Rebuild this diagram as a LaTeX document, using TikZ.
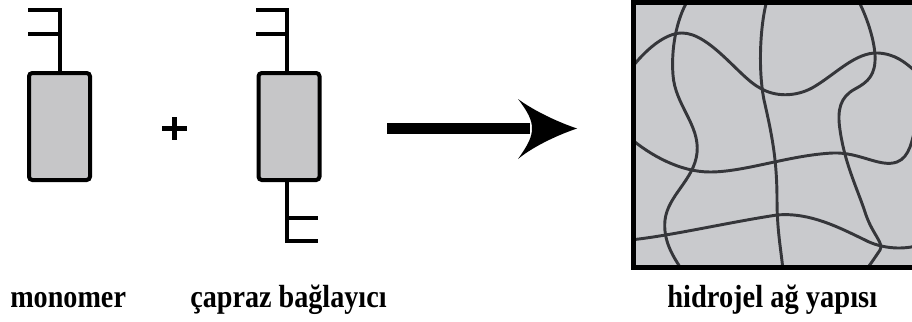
\documentclass[tikz,border=0pt]{standalone}
\usepackage{fontspec}
\setmainfont{Liberation Serif}
\begin{document}
\begin{tikzpicture}[x=0.75pt,y=-0.75pt,
  unitbox/.style={draw=black,line width=3pt,fill=boxgray,rounded corners=2.5pt,
    minimum width=45.75pt,minimum height=80.25pt,inner sep=0pt},
  arm/.style={line width=3pt,line cap=butt,line join=miter},
  chain/.style={draw=chaingray,line width=2.2pt,line cap=round},
  caption/.style={font=\bfseries\fontsize{24}{26}\selectfont,inner sep=0pt,anchor=base west}]
\definecolor{boxgray}{HTML}{C6C6C8}
\definecolor{gelgray}{HTML}{C9CACD}
\definecolor{chaingray}{HTML}{35363A}
\useasboundingbox (0,0) rectangle (912,321);

% monomer
\node[unitbox] (mono) at (59.5,126.5) {};
\draw[arm] (28,10) -- (60,10) -- (mono.north -| 60,0);
\draw[arm] (28,34) -- (60,34);

% plus sign
\draw[line width=3.2pt] (162,128.5) -- (187,128.5);
\draw[line width=3.2pt] (174.5,117) -- (174.5,140);

% crosslinker
\node[unitbox] (cross) at (289,126.5) {};
\draw[arm] (256,10) -- (287,10) -- (cross.north -| 287,0);
\draw[arm] (256,34) -- (287,34);
\draw[arm] (cross.south -| 287,0) -- (287,241) -- (318,241);
\draw[arm] (287,218) -- (318,218);

% reaction arrow
\coordinate (arrS) at (387,128.5);
\coordinate (arrE) at (577,128.5);
\draw[line width=8pt] (arrS) -- (530,128.5);
\fill (arrE) .. controls (552,120) and (530,108) .. (518,99)
  .. controls (528,112) and (532,120) .. (532,128.5)
  .. controls (532,137) and (528,145) .. (518,159)
  .. controls (530,149) and (552,137) .. (arrE) -- cycle;

% hydrogel network
\begin{scope}
\clip (633,3) rectangle (915,267);
\fill[gelgray] (633,3) rectangle (915,267);
% A
\draw[chain] (688,0) .. controls (676,20) and (671,50) .. (673,75)
  .. controls (675,105) and (700,125) .. (697,153)
  .. controls (694,180) and (668,195) .. (665,220)
  .. controls (663,240) and (672,255) .. (682,270);
% B
\draw[chain] (630,70) .. controls (645,50) and (665,33) .. (682,33)
  .. controls (710,33) and (740,78) .. (760,88)
  .. controls (775,97) and (795,97) .. (812,88)
  .. controls (835,75) and (855,52) .. (878,53)
  .. controls (895,54) and (905,62) .. (916,72);
% C
\draw[chain] (767,0) .. controls (760,25) and (758,70) .. (764,100)
  .. controls (772,135) and (777,160) .. (777,200)
  .. controls (777,230) and (781,250) .. (783,270);
% D
\draw[chain] (858,0) .. controls (866,15) and (874,38) .. (875,55)
  .. controls (876,75) and (868,82) .. (855,89)
  .. controls (840,97) and (837,110) .. (840,130)
  .. controls (845,165) and (858,190) .. (866,215)
  .. controls (873,235) and (884,243) .. (880,250)
  .. controls (876,256) and (872,262) .. (866,270);
% E
\draw[chain] (630,138) .. controls (650,155) and (680,172) .. (710,172)
  .. controls (745,172) and (790,155) .. (833,153)
  .. controls (860,152) and (880,168) .. (897,162)
  .. controls (910,157) and (912,140) .. (916,125);
% F
\draw[chain] (630,240) .. controls (670,236) and (730,222) .. (777,215)
  .. controls (810,212) and (840,228) .. (865,240)
  .. controls (880,248) and (900,250) .. (916,246);
\end{scope}
\draw[line width=3.75pt] (915,3) -- (633,3) -- (633,267) -- (915,267);

% captions
\node[caption] (lblMono) at (10,307) {\scalebox{0.88}[1]{monomer}};
\node[caption] (lblCross) at (190,307) {\scalebox{0.88}[1]{çapraz bağlayıcı}};
\node[caption] (lblGel) at (667,307) {\scalebox{0.89}[1]{hidrojel ağ yapısı}};
\end{tikzpicture}
\end{document}
